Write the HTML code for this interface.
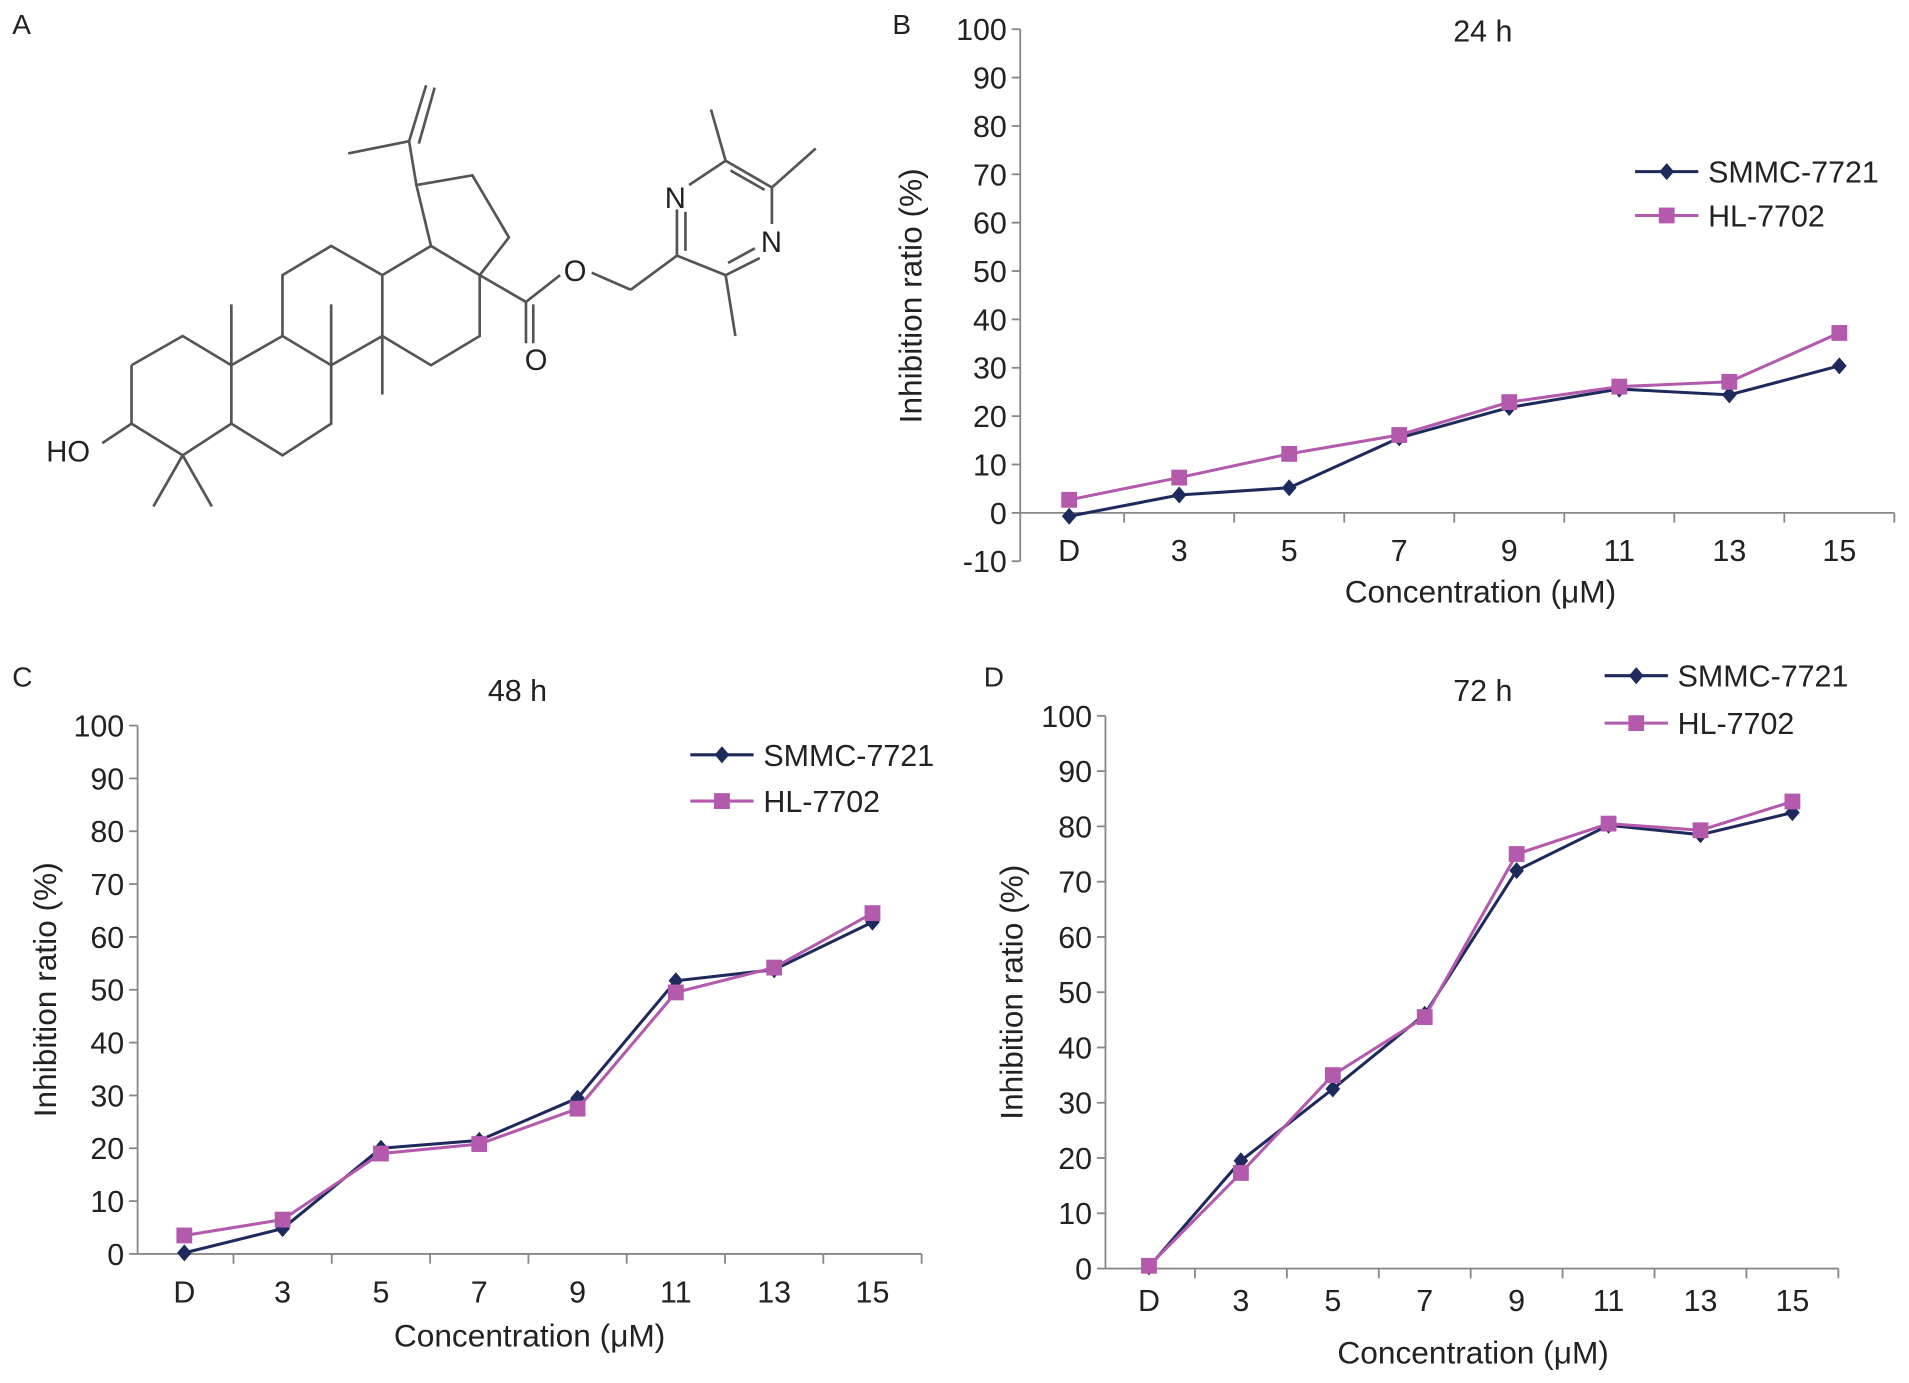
<!DOCTYPE html>
<html><head><meta charset="utf-8"><style>
html,body{margin:0;padding:0;background:#fff;}
svg{display:block;font-family:"Liberation Sans",Arial,sans-serif;}
</style></head><body>
<svg id="fig" width="1909" height="1383" viewBox="0 0 1568 1136" xmlns="http://www.w3.org/2000/svg">
<rect width="1568" height="1136" fill="#fff"/>
<g font-size="23" fill="#222">
<text x="10" y="28">A</text>
<text x="733" y="28">B</text>
<text x="10" y="564">C</text>
<text x="808" y="564">D</text>
</g>
<g stroke="#555" stroke-width="2.2" fill="none">
<polyline points="108,300 150,276 190,300 190,348 150,374 108,348 108,300"/>
<polyline points="190,300 232,276 272,300 272,348 232,374 190,348"/>
<line x1="190" y1="300" x2="190" y2="250"/>
<polyline points="232,276 232,226 272,202 314,226 314,276 272,300"/>
<line x1="272" y1="300" x2="272" y2="250"/>
<polyline points="314,226 354,202 394,226 394,276 354,300 314,276"/>
<line x1="314" y1="276" x2="314" y2="324"/>
<polyline points="354,202 342,152 388,144 418,195 394,226"/>
<line x1="342" y1="152" x2="336" y2="116"/>
<line x1="336" y1="116" x2="286" y2="126"/>
<line x1="336" y1="116" x2="350" y2="70"/>
<line x1="344" y1="118" x2="357" y2="72"/>
<line x1="108" y1="348" x2="84" y2="364"/>
<line x1="150" y1="374" x2="126" y2="416"/>
<line x1="150" y1="374" x2="174" y2="416"/>
<line x1="394" y1="226" x2="432" y2="248"/>
<line x1="432" y1="248" x2="432" y2="282"/>
<line x1="438" y1="250" x2="438" y2="282"/>
<line x1="432" y1="248" x2="460" y2="226"/>
<line x1="486" y1="224" x2="518" y2="238"/>
<line x1="518" y1="238" x2="556" y2="210"/>
<polyline points="556,210 556,172"/>
<line x1="563" y1="206" x2="563" y2="174"/>
<polyline points="566,152 596,132 634,154 634,184"/>
<line x1="600" y1="140" x2="628" y2="156"/>
<polyline points="624,212 596,226 556,210"/>
<line x1="620" y1="204" x2="598" y2="216"/>
<line x1="596" y1="132" x2="584" y2="90"/>
<line x1="634" y1="154" x2="670" y2="122"/>
<line x1="596" y1="226" x2="604" y2="276"/>
</g>
<g font-size="24" fill="#222">
<text x="38" y="379">HO</text>
<text x="431" y="304">O</text>
<text x="463" y="231">O</text>
<text x="546" y="171">N</text>
<text x="625" y="207">N</text>
</g>
<g id="charts"></g>
</svg>
<script>
const categories = ["D","3","5","7","9","11","13","15"];
const yTicksB = [-10,0,10,20,30,40,50,60,70,80,90,100];
const yTicksCD = [0,10,20,30,40,50,60,70,80,90,100];
const smmc24 = [-0.7,3.7,5.2,15.5,21.8,25.6,24.4,30.4];
const hl24 = [2.7,7.3,12.2,16.1,22.9,26.1,27.1,37.2];
const smmc48 = [0.2,4.8,20,21.5,29.5,51.7,53.8,62.8];
const hl48 = [3.5,6.5,19,20.8,27.5,49.5,54.2,64.5];
const smmc72 = [0.3,19.5,32.5,46,72,80.2,78.5,82.5];
const hl72 = [0.5,17.3,35,45.5,75,80.5,79.3,84.5];
const seriesNames = ["SMMC-7721","HL-7702"];

const NS="http://www.w3.org/2000/svg";
const root=document.getElementById('charts');
function mk(tag,attrs,parent){const e=document.createElementNS(NS,tag);for(const k in attrs)e.setAttribute(k,attrs[k]);parent.appendChild(e);return e;}

function chart(cfg){
  const g=mk('g',{},root);
  
  
  const ymin=cfg.ticks[0], ymax=cfg.ticks[cfg.ticks.length-1];
  const y=v=>cfg.yBot-(v-ymin)/(ymax-ymin)*(cfg.yBot-cfg.yTop);
  const n=categories.length;
  const band=(cfg.xEnd-cfg.x0)/n;
  const x=i=>cfg.x0+band*(i+0.5);
  const y0=y(0);
  const axis=mk('g',{stroke:'#888','stroke-width':1.5},g);
  
  
  mk('line',{x1:cfg.ax,y1:cfg.yTop,x2:cfg.ax,y2:cfg.yBot},axis);
  mk('line',{x1:cfg.ax,y1:y0,x2:cfg.xEnd,y2:y0},axis);
  cfg.ticks.forEach(t=>{
    mk('line',{x1:cfg.ax-7,y1:y(t),x2:cfg.ax,y2:y(t)},axis);
    const tx=mk('text',{x:cfg.ax-11,y:y(t)+9,'text-anchor':'end','font-size':25,fill:'#222',stroke:'none'},g);
    
    
    tx.textContent=t;
  });
  for(let i=1;i<=n;i++){mk('line',{x1:cfg.x0+band*i,y1:y0,x2:cfg.x0+band*i,y2:y0+8},axis);}
  categories.forEach((c,i)=>{
    const tx=mk('text',{x:x(i),y:cfg.catY,'text-anchor':'middle','font-size':25,fill:'#222'},g);
    
    
    tx.textContent=c;
  });
  const tt=mk('text',{x:cfg.titleX,y:cfg.titleY,'text-anchor':'middle','font-size':25,fill:'#222'},g);
  
  
  tt.textContent=cfg.title;
  const xl=mk('text',{x:cfg.xlX,y:cfg.xlY,'text-anchor':'middle','font-size':26,fill:'#222'},g);
  
  
  xl.textContent='Concentration (\u03bcM)';
  const yl=mk('text',{x:0,y:0,transform:`translate(${cfg.ylX},${cfg.ylY}) rotate(-90)`,'text-anchor':'middle','font-size':26,fill:'#222'},g);
  
  
  yl.textContent='Inhibition ratio (%)';
  const cols=['#1f2a5c','#b45aad'];
  [cfg.s1,cfg.s2].forEach((data,si)=>{
    const sg=mk('g',{},g);
    
    
    mk('polyline',{points:data.map((v,i)=>x(i)+','+y(v)).join(' '),fill:'none',stroke:cols[si],'stroke-width':2.5},sg);
    data.forEach((v,i)=>{
      let m;
      if(si===0) m=mk('polygon',{points:`${x(i)},${y(v)-7} ${x(i)+6},${y(v)} ${x(i)},${y(v)+7} ${x(i)-6},${y(v)}`,fill:cols[0]},sg);
      else m=mk('rect',{x:x(i)-6.5,y:y(v)-6.5,width:13,height:13,fill:cols[1]},sg);
      
      
    });
  });
  const lg=mk('g',{},g);
  
  
  seriesNames.forEach((s,si)=>{
    const ly=cfg.legY+si*cfg.legGap;
    const e=mk('g',{},lg);
    
    
    mk('line',{x1:cfg.legX,y1:ly,x2:cfg.legX+52,y2:ly,stroke:cols[si],'stroke-width':2.5},e);
    if(si===0) mk('polygon',{points:`${cfg.legX+26},${ly-7} ${cfg.legX+32},${ly} ${cfg.legX+26},${ly+7} ${cfg.legX+20},${ly}`,fill:cols[0]},e);
    else mk('rect',{x:cfg.legX+19.5,y:ly-6.5,width:13,height:13,fill:cols[1]},e);
    const t=mk('text',{x:cfg.legX+60,y:ly+9,'font-size':25,fill:'#222'},e);
    t.textContent=s;
  });
}
chart({name:'chart-24h',ticks:yTicksB,ax:838,x0:833,xEnd:1556,yTop:24,yBot:461,catY:461,title:'24 h',titleX:1218,titleY:34,xlX:1216,xlY:495,ylX:757,ylY:243,s1:smmc24,s2:hl24,legX:1343,legY:141,legGap:36});
chart({name:'chart-48h',ticks:yTicksCD,ax:113,x0:111,xEnd:757,yTop:596,yBot:1030,catY:1070,title:'48 h',titleX:425,titleY:576,xlX:435,xlY:1106,ylX:46,ylY:813,s1:smmc48,s2:hl48,legX:567,legY:620,legGap:38});
chart({name:'chart-72h',ticks:yTicksCD,ax:908,x0:906,xEnd:1510,yTop:588,yBot:1042,catY:1077,title:'72 h',titleX:1218,titleY:576,xlX:1210,xlY:1120,ylX:840,ylY:815,s1:smmc72,s2:hl72,legX:1318,legY:555,legGap:39});
</script>
</body></html>
